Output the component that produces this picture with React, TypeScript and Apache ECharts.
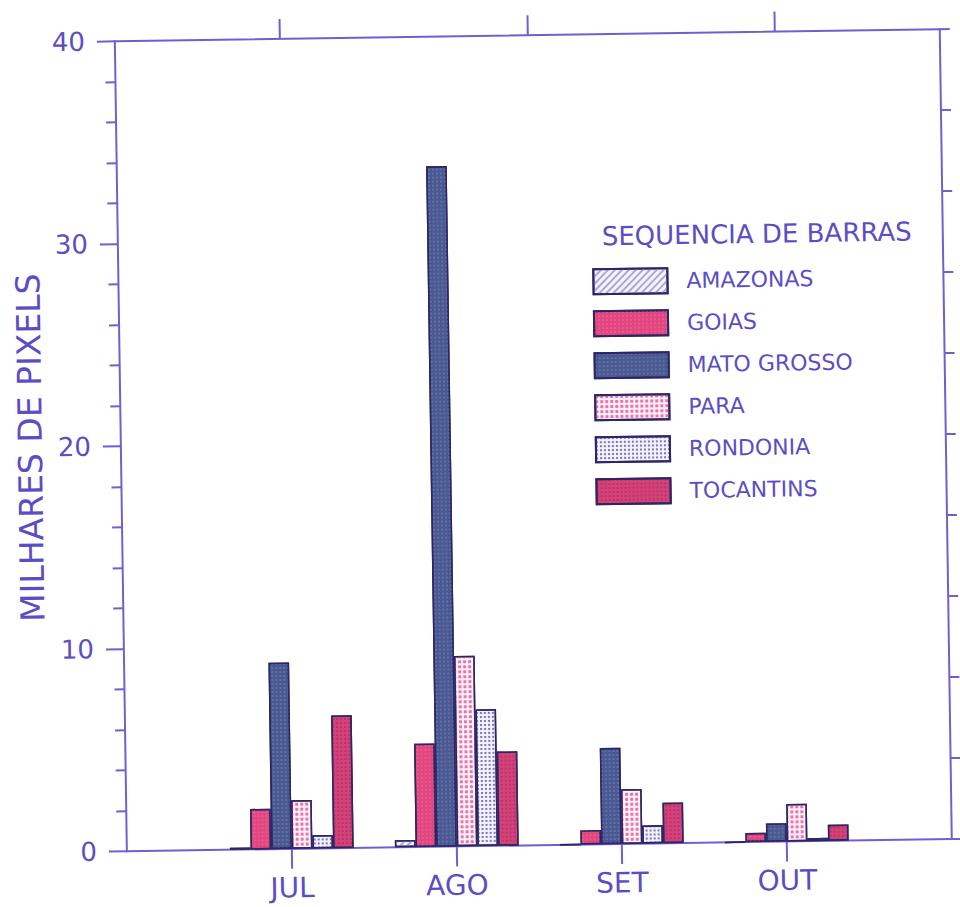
import React, { useEffect, useRef } from 'react';
import * as echarts from 'echarts';

// ---- data ----
const months = ['', 'JUL', 'AGO', 'SET', 'OUT', ''];
const topTickSlots = ['', '', '', '', '', '', '', '', '', '', ''];
const seriesNames = ['AMAZONAS', 'GOIAS', 'MATO GROSSO', 'PARA', 'RONDONIA', 'TOCANTINS'];
const amazonas = [0.1, 0.35, 0, 0];
const goias = [2.0, 5.1, 0.7, 0.45];
const matoGrosso = [9.2, 33.6, 4.75, 0.9];
const para = [2.4, 9.4, 2.7, 1.85];
const rondonia = [0.65, 6.75, 0.9, 0.15];
const tocantins = [6.55, 4.65, 2.0, 0.8];
const yTicks = [0, 10, 20, 30, 40];

const INK = '#5b4ec4';
const LINE = '#6f60d0';
const BORDER = '#2c2764';
const FONT = '"DejaVu Sans", "Liberation Sans", Arial, sans-serif';

const styles: any[] = [
  { color: '#f5f3fb', decal: { symbol: 'rect', symbolSize: 1, dashArrayX: [1, 0], dashArrayY: [1.5, 2.5], rotation: -Math.PI / 4, color: '#aea6d6' } },
  { color: '#e2467f', decal: { symbol: 'rect', symbolSize: 1, dashArrayX: [2, 2], dashArrayY: [2, 2], color: '#ea5a90' } },
  { color: '#4a5890', decal: { symbol: 'rect', symbolSize: 1, dashArrayX: [2, 2], dashArrayY: [2, 2], color: '#5f70aa' } },
  { color: '#fdf2f8', decal: { symbol: 'rect', symbolSize: 1, dashArrayX: [3, 2], dashArrayY: [3, 2], color: '#eb74ad' } },
  { color: '#f3f2fb', decal: { symbol: 'rect', symbolSize: 1, dashArrayX: [2, 2], dashArrayY: [2, 2], color: '#7b76c2' } },
  { color: '#d3437a', decal: { symbol: 'rect', symbolSize: 1, dashArrayX: [2, 2], dashArrayY: [2, 2], color: '#bb3168' } },
];

const values = [amazonas, goias, matoGrosso, para, rondonia, tocantins];

export default function App() {
  const ref = useRef<HTMLDivElement>(null);
  useEffect(() => {
    if (!ref.current) return;
    const chart = echarts.init(ref.current, undefined, { renderer: 'svg' });
    const series = seriesNames.map((name, i) => ({
      name,
      type: 'bar',
      xAxisIndex: 0,
      yAxisIndex: 0,
      barGap: '0%',
      barCategoryGap: '25%',
      data: [null, ...values[i], null],
      itemStyle: {
        color: styles[i].color,
        decal: styles[i].decal,
        borderColor: BORDER,
        borderWidth: 1.5,
      },
    }));
    chart.setOption({
      animation: false,
      backgroundColor: '#ffffff',
      aria: { enabled: false },
      title: {
        text: 'SEQUENCIA DE BARRAS',
        left: 600,
        top: 220,
        textStyle: { color: INK, fontSize: 26, fontWeight: 'normal', fontFamily: FONT },
      },
      legend: {
        orient: 'vertical',
        left: 590,
        top: 265,
        itemWidth: 74,
        itemHeight: 25,
        itemGap: 15,
        icon: 'rect',
        data: seriesNames,
        textStyle: { color: INK, fontSize: 22, fontFamily: FONT, padding: [0, 0, 0, 14] },
      },
      grid: { left: 121, right: 14, top: 36, bottom: 61, containLabel: false },
      xAxis: [
        {
          type: 'category',
          data: months,
          position: 'bottom',
          boundaryGap: false,
          axisLine: { show: true, onZero: false, lineStyle: { color: LINE, width: 2 } },
          axisTick: { show: true, length: 20, interval: (i: number) => i >= 1 && i <= 4, lineStyle: { color: LINE, width: 2 } },
          axisLabel: { interval: 0, color: INK, fontSize: 28, fontFamily: FONT, margin: 25 },
          splitLine: { show: false },
        },
        {
          type: 'category',
          data: topTickSlots,
          position: 'top',
          boundaryGap: false,
          axisLine: { show: true, onZero: false, lineStyle: { color: LINE, width: 2 } },
          axisTick: { show: true, length: 20, interval: (i: number) => i === 2 || i === 5 || i === 8, lineStyle: { color: LINE, width: 2 } },
          axisLabel: { show: false },
          splitLine: { show: false },
        },
      ],
      yAxis: [
        {
          type: 'value',
          min: yTicks[0],
          max: yTicks[yTicks.length - 1],
          interval: 10,
          position: 'left',
          name: 'MILHARES DE PIXELS',
          nameLocation: 'middle',
          nameGap: 70,
          nameTextStyle: { color: INK, fontSize: 33, fontFamily: FONT },
          axisLine: { show: true, onZero: false, lineStyle: { color: LINE, width: 2 } },
          axisTick: { show: true, length: 18, lineStyle: { color: LINE, width: 2 } },
          minorTick: { show: true, splitNumber: 5, length: 10, lineStyle: { color: LINE, width: 2 } },
          axisLabel: { color: INK, fontSize: 26, fontFamily: FONT, margin: 30 },
          splitLine: { show: false },
          minorSplitLine: { show: false },
        },
        {
          type: 'value',
          min: 0,
          max: 40,
          interval: 4,
          position: 'right',
          axisLine: { show: true, onZero: false, lineStyle: { color: LINE, width: 2 } },
          axisTick: { show: true, length: 10, lineStyle: { color: LINE, width: 2 } },
          axisLabel: { show: false },
          splitLine: { show: false },
        },
      ],
      series,
    });
    return () => chart.dispose();
  }, []);
  return (
    <div
      ref={ref}
      style={{
        position: 'absolute',
        left: 0,
        top: 0,
        width: 960,
        height: 907,
        background: '#ffffff',
        transform: 'rotate(-0.85deg)',
      }}
    />
  );
}
